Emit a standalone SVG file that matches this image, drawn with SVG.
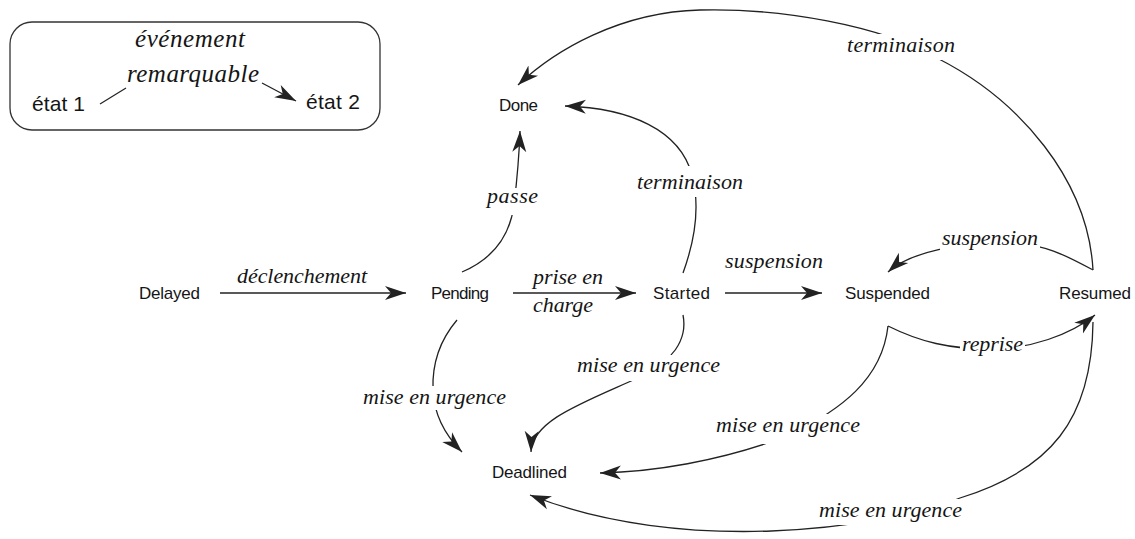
<svg xmlns="http://www.w3.org/2000/svg" width="1135" height="539" viewBox="0 0 1135 539">
<style>
.bg{fill:#ffffff}
.node{font-family:"Liberation Sans",Arial,sans-serif;font-size:17px;fill:#151515}
.lg{font-family:"Liberation Sans",Arial,sans-serif;font-size:21px;fill:#151515}
.lab{font-family:"Liberation Serif","Times New Roman",serif;font-style:italic;font-size:22px;fill:#151515}
.lab2{font-family:"Liberation Serif","Times New Roman",serif;font-style:italic;font-size:25px;fill:#151515}
.edge{fill:none;stroke:#222;stroke-width:1.3}
.box{fill:none;stroke:#333;stroke-width:1.3}
.hole{fill:#000}
</style>
<defs>
<marker id="arr" markerUnits="userSpaceOnUse" markerWidth="24" markerHeight="16" refX="21" refY="8" orient="auto">
<path d="M0,1 L21,8 L0,15 L6,8 Z" fill="#222"/>
</marker>
<mask id="labelgaps" maskUnits="userSpaceOnUse" x="0" y="0" width="1135" height="539">
<rect x="0" y="0" width="1135" height="539" fill="#fff"/>
<rect class="hole" x="484" y="188" width="57" height="27"/>
<rect class="hole" x="635" y="166" width="110" height="31"/>
<rect class="hole" x="845" y="34" width="113" height="26"/>
<rect class="hole" x="940" y="228" width="100" height="22"/>
<rect class="hole" x="960" y="336" width="65" height="20"/>
<rect class="hole" x="361" y="386" width="147" height="24"/>
<rect class="hole" x="575" y="355" width="147" height="26"/>
<rect class="hole" x="714" y="414" width="148" height="30"/>
<rect class="hole" x="817" y="499" width="147" height="26"/>
</mask>
</defs>
<rect class="bg" x="0" y="0" width="1135" height="539"/>

<g id="legend">
<rect class="box" x="10" y="22" width="370" height="108" rx="22" ry="22"/>
<text class="lab2" x="135" y="47" textLength="110" lengthAdjust="spacing">événement</text>
<text class="lab2" x="127" y="82" textLength="132" lengthAdjust="spacing">remarquable</text>
<text class="lg" x="32" y="111" textLength="53" lengthAdjust="spacing">état 1</text>
<text class="lg" x="306" y="109" textLength="54" lengthAdjust="spacing">état 2</text>
<path class="edge" d="M100 104 L126 88"/>
<path class="edge" d="M262 83 L296 101" marker-end="url(#arr)"/>
</g>

<g id="connectors" mask="url(#labelgaps)">
<path class="edge" d="M220 293 L406 293" marker-end="url(#arr)"/>
<path class="edge" d="M513 293 L636 293" marker-end="url(#arr)"/>
<path class="edge" d="M725 293 L822 293" marker-end="url(#arr)"/>
<path class="edge" d="M462 272 C495 258 510 235 514 205 C517 180 519 160 520 131" marker-end="url(#arr)"/>
<path class="edge" d="M683 273 C695 240 700 205 692 175 C680 130 630 108 565 106" marker-end="url(#arr)"/>
<path class="edge" d="M1093 270 C1088 180 1020 100 937 58 C880 25 780 8 700 10 C620 12 555 50 518 85" marker-end="url(#arr)"/>
<path class="edge" d="M1093 270 C1065 255 1045 244 1010 243 C960 242 910 252 888 272" marker-end="url(#arr)"/>
<path class="edge" d="M888 326 C920 342 950 349 990 349 C1030 349 1070 335 1095 315" marker-end="url(#arr)"/>
<path class="edge" d="M888 326 C882 380 840 410 790 435 C720 462 650 472 600 473" marker-end="url(#arr)"/>
<path class="edge" d="M1093 322 C1092 420 1050 470 960 498 C880 530 680 555 530 495" marker-end="url(#arr)"/>
<path class="edge" d="M683 315 C688 340 672 362 640 377 C585 402 532 420 531 452" marker-end="url(#arr)"/>
<path class="edge" d="M457 320 C440 340 432 365 433 390 C434 415 445 435 462 452" marker-end="url(#arr)"/>
</g>

<g id="edge-labels">
<text class="lab" x="237" y="283" textLength="130" lengthAdjust="spacing">déclenchement</text>
<text class="lab" x="533" y="284" textLength="70" lengthAdjust="spacing">prise en</text>
<text class="lab" x="533" y="312" textLength="60" lengthAdjust="spacing">charge</text>
<text class="lab" x="725" y="268" textLength="98" lengthAdjust="spacing">suspension</text>
<text class="lab" x="487" y="203" textLength="51" lengthAdjust="spacing">passe</text>
<text class="lab" x="637" y="189" textLength="106" lengthAdjust="spacing">terminaison</text>
<text class="lab" x="847" y="52" textLength="108" lengthAdjust="spacing">terminaison</text>
<text class="lab" x="942" y="245" textLength="96" lengthAdjust="spacing">suspension</text>
<text class="lab" x="962" y="351" textLength="61" lengthAdjust="spacing">reprise</text>
<text class="lab" x="363" y="404" textLength="143" lengthAdjust="spacing">mise en urgence</text>
<text class="lab" x="577" y="372" textLength="143" lengthAdjust="spacing">mise en urgence</text>
<text class="lab" x="716" y="432" textLength="144" lengthAdjust="spacing">mise en urgence</text>
<text class="lab" x="819" y="517" textLength="143" lengthAdjust="spacing">mise en urgence</text>
</g>

<g id="node-delayed"><text class="node" x="139" y="299" textLength="61" lengthAdjust="spacing">Delayed</text></g>
<g id="node-pending"><text class="node" x="431" y="299" textLength="58" lengthAdjust="spacing">Pending</text></g>
<g id="node-started"><text class="node" x="653" y="299" textLength="57" lengthAdjust="spacing">Started</text></g>
<g id="node-suspended"><text class="node" x="845" y="299" textLength="85" lengthAdjust="spacing">Suspended</text></g>
<g id="node-resumed"><text class="node" x="1059" y="299" textLength="72" lengthAdjust="spacing">Resumed</text></g>
<g id="node-done"><text class="node" x="499" y="111" textLength="39" lengthAdjust="spacing">Done</text></g>
<g id="node-deadlined"><text class="node" x="492" y="478" textLength="75" lengthAdjust="spacing">Deadlined</text></g>
</svg>
